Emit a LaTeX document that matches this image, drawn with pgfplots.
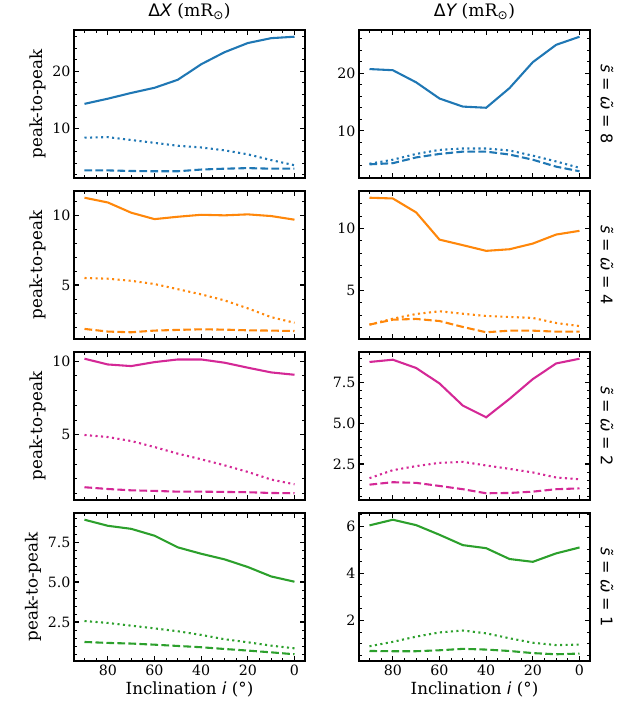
\documentclass[border=0pt]{standalone}
\usepackage{fontspec}
\setmainfont{DejaVu Serif}
\newfontfamily\dsans{DejaVu Sans}
\usepackage{pgfplots}
\pgfplotsset{compat=1.18}
\usepackage{pgfplotstable}
\usepgfplotslibrary{groupplots}

\definecolor{cB}{HTML}{1F77B4}
\definecolor{cO}{HTML}{FF870A}
\definecolor{cM}{HTML}{D42896}
\definecolor{cG}{HTML}{2CA02C}

% columns: inclination, solid, dotted, dashed
\pgfplotstableread{
i s dt ds
90 14.3 8.4 2.7
80 15.2 8.5 2.7
70 16.2 8.0 2.6
60 17.1 7.5 2.55
50 18.5 7.0 2.55
40 21.2 6.7 2.85
30 23.3 6.2 3.0
20 24.9 5.5 3.1
10 25.75 4.5 3.0
0 26.0 3.6 3.0
}\tAL
\pgfplotstableread{
i s dt ds
90 20.7 4.3 4.2
80 20.5 5.0 4.4
70 18.4 6.0 5.4
60 15.6 6.7 6.0
50 14.2 6.95 6.4
40 14.0 6.95 6.4
30 17.4 6.6 5.9
20 21.9 5.7 5.0
10 24.9 4.7 3.8
0 26.3 3.6 3.0
}\tAR
\pgfplotstableread{
i s dt ds
90 11.24 5.5 1.86
80 10.9 5.45 1.67
70 10.17 5.3 1.62
60 9.71 5.07 1.74
50 9.88 4.7 1.79
40 10.02 4.33 1.83
30 9.98 3.9 1.81
20 10.05 3.33 1.76
10 9.93 2.7 1.74
0 9.67 2.3 1.71
}\tBL
\pgfplotstableread{
i s dt ds
90 12.49 2.22 2.22
80 12.43 2.7 2.62
70 11.3 3.08 2.68
60 9.1 3.3 2.51
50 8.65 3.1 2.03
40 8.19 2.92 1.6
30 8.32 2.84 1.73
20 8.78 2.76 1.73
10 9.51 2.35 1.65
0 9.81 2.1 1.65
}\tBR
\pgfplotstableread{
i s dt ds
90 10.16 4.98 1.43
80 9.77 4.84 1.31
70 9.66 4.57 1.22
60 9.93 4.16 1.18
50 10.11 3.71 1.13
40 10.11 3.33 1.13
30 9.89 2.92 1.11
20 9.55 2.47 1.09
10 9.23 1.95 1.04
0 9.07 1.63 1.02
}\tCL
\pgfplotstableread{
i s dt ds
90 8.77 1.63 1.23
80 8.91 2.12 1.38
70 8.4 2.37 1.34
60 7.45 2.57 1.15
50 6.09 2.63 0.95
40 5.37 2.41 0.7
30 6.5 2.2 0.72
20 7.72 1.98 0.8
10 8.68 1.67 0.95
0 8.97 1.56 1.0
}\tCR
\pgfplotstableread{
i s dt ds
90 8.9 2.56 1.25
80 8.52 2.44 1.19
70 8.33 2.27 1.15
60 7.9 2.1 1.08
50 7.17 1.92 1.0
40 6.77 1.69 0.92
30 6.42 1.42 0.81
20 5.94 1.23 0.71
10 5.35 1.02 0.6
0 5.02 0.85 0.48
}\tDL
\pgfplotstableread{
i s dt ds
90 6.03 0.89 0.69
80 6.27 1.08 0.68
70 6.04 1.3 0.68
60 5.63 1.48 0.72
50 5.19 1.56 0.78
40 5.06 1.44 0.75
30 4.6 1.23 0.69
20 4.48 1.04 0.6
10 4.84 0.94 0.55
0 5.09 0.96 0.58
}\tDR

\pgfplotsset{
  sl/.style={#1, line width=2.08bp, solid},
  dl/.style={#1, line width=2.08bp, dash pattern=on 2.08bp off 3.44bp},
  el/.style={#1, line width=2.08bp, dash pattern=on 7.7bp off 3.3bp},
  onedec/.style={yticklabel style={/pgf/number format/.cd, fixed, fixed zerofill, precision=1}},
}
\newcommand{\three}[2]{%
  \addplot[sl=#2] table[x=i,y=s]{#1};
  \addplot[dl=#2] table[x=i,y=dt]{#1};
  \addplot[el=#2] table[x=i,y=ds]{#1};
}
\newcommand{\lab}[1]{{\dsans{\itshape \~{s}} = {\itshape \~{ω}} = #1}}

\begin{document}
\begin{tikzpicture}
\begin{groupplot}[
  group style={group size=2 by 4, group name=G, horizontal sep=54bp, vertical sep=13bp,
    xticklabels at=edge bottom, xlabels at=edge bottom},
  scale only axis, width=231bp, height=148bp,
  x dir=reverse, xmin=-4.5, xmax=94.5,
  xtick={0,20,40,60,80}, minor xtick={0,5,...,90},
  enlarge y limits=0.05,
  tick align=inside, tick pos=both,
  major tick length=4.9bp, minor tick length=2.8bp,
  every tick/.style={black, line width=1.1bp},
  every minor tick/.style={black, line width=0.85bp},
  axis line style={line width=1.1bp},
  tick label style={font=\fontsize{14.2bp}{16bp}\selectfont},
  label style={font=\fontsize{16.7bp}{19bp}\selectfont},
  title style={font=\fontsize{17.2bp}{19bp}\selectfont, at={(0.5,1)}, anchor=south, yshift=1bp},
  /pgf/number format/assume math mode=true,
  xlabel={Inclination {\dsans\itshape i} (°)},
]
\nextgroupplot[ylabel={peak-to-peak}, title={{\dsans Δ\itshape X} (mR\textsubscript{\dsans ⊙})},
  ytick={0,10,20,30}, minor ytick={0,2,...,30}]
\three{\tAL}{cB}
\nextgroupplot[title={{\dsans Δ\itshape Y} (mR\textsubscript{\dsans ⊙})},
  ytick={0,10,20,30}, minor ytick={0,2,...,30}]
\three{\tAR}{cB}
\nextgroupplot[ylabel={peak-to-peak}, ytick={0,5,10,15}, minor ytick={0,1,...,15}]
\three{\tBL}{cO}
\nextgroupplot[ytick={0,5,10,15}, minor ytick={0,1,...,15}]
\three{\tBR}{cO}
\nextgroupplot[ylabel={peak-to-peak}, ytick={0,5,10,15}, minor ytick={0,1,...,15}]
\three{\tCL}{cM}
\nextgroupplot[onedec, ytick={0,2.5,5,7.5,10}, minor ytick={0,0.5,...,10}]
\three{\tCR}{cM}
\nextgroupplot[onedec, ylabel={peak-to-peak}, ytick={0,2.5,5,7.5,10}, minor ytick={0,0.5,...,10}]
\three{\tDL}{cG}
\nextgroupplot[ytick={0,2,4,6,8}, minor ytick={0,0.5,...,8}]
\three{\tDR}{cG}
\end{groupplot}
\foreach \r/\v in {1/8,2/4,3/2,4/1}{
  \node[rotate=-90, font=\fontsize{16bp}{18bp}\selectfont] at ([xshift=17bp]G c2r\r.east) {\lab{\v}};
}
\path (G c1r1.north west) ++(-74bp,30bp) rectangle ++(630bp,-706bp);
\end{tikzpicture}
\end{document}
